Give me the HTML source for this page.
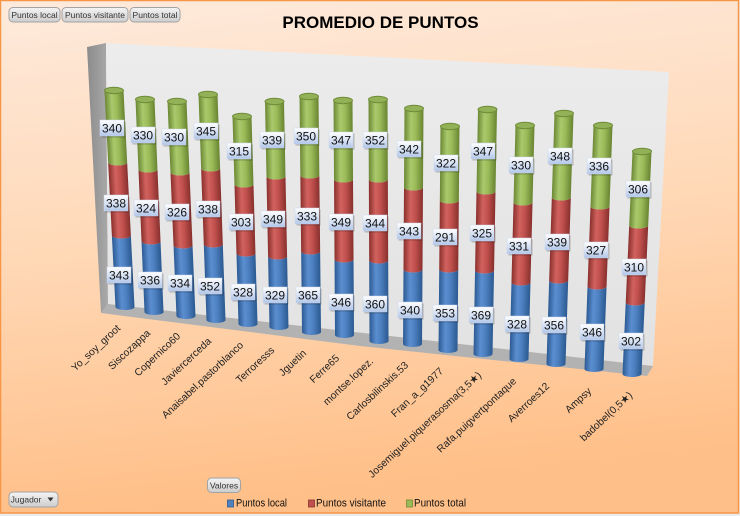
<!DOCTYPE html>
<html><head><meta charset="utf-8"><style>
html,body{margin:0;padding:0;background:#f0f0f0;}
svg{display:block;font-family:"Liberation Sans","DejaVu Sans",sans-serif;}
.b{fill:url(#gb)}.r{fill:url(#gr)}.g{fill:url(#gg)}
.cap{fill:#93b257;stroke:#6f8c38;stroke-width:1}
.lb rect.s{fill:rgba(0,0,0,0.22)}
.lb rect.f{fill:url(#gl);stroke:#c9d5ea;stroke-width:0.5}
.lb text{font-size:12px;fill:#111;text-anchor:middle}
.cat{font-size:10.3px;fill:#222;text-anchor:end}
.btn rect{fill:url(#gbtn);stroke:#a3a3a3;stroke-width:1}
.btn text{font-size:8.5px;fill:#333;text-anchor:middle}
</style></head><body>
<svg width="740" height="516" viewBox="0 0 740 516" xmlns="http://www.w3.org/2000/svg">
<defs>
<linearGradient id="bg" x1="0" y1="0" x2="0.15" y2="1">
<stop offset="0" stop-color="#feeadc"/><stop offset="0.5" stop-color="#ffd8b6"/><stop offset="1" stop-color="#ffbf88"/>
</linearGradient>
<linearGradient id="gb" x1="0" x2="1" y1="0" y2="0">
<stop offset="0" stop-color="#2c5a93"/><stop offset="0.35" stop-color="#5b8ed0"/><stop offset="0.6" stop-color="#4d80c0"/><stop offset="1" stop-color="#2b5990"/>
</linearGradient>
<linearGradient id="gr" x1="0" x2="1" y1="0" y2="0">
<stop offset="0" stop-color="#8a302d"/><stop offset="0.35" stop-color="#d1625e"/><stop offset="0.6" stop-color="#c2514e"/><stop offset="1" stop-color="#87302d"/>
</linearGradient>
<linearGradient id="gg" x1="0" x2="1" y1="0" y2="0">
<stop offset="0" stop-color="#6b8834"/><stop offset="0.35" stop-color="#aac96c"/><stop offset="0.6" stop-color="#9bbb59"/><stop offset="1" stop-color="#688431"/>
</linearGradient>
<linearGradient id="gl" x1="0" x2="0" y1="0" y2="1">
<stop offset="0" stop-color="#ffffff"/><stop offset="1" stop-color="#b3c7ea"/>
</linearGradient>
<linearGradient id="glw" x1="0" x2="1" y1="0" y2="0">
<stop offset="0" stop-color="#8c8c8c"/><stop offset="1" stop-color="#a9a9a9"/>
</linearGradient>
<linearGradient id="gbw" x1="0" x2="0" y1="0" y2="1">
<stop offset="0" stop-color="#ececec"/><stop offset="1" stop-color="#e2e2e2"/>
</linearGradient>
<linearGradient id="gbtn" x1="0" x2="0" y1="0" y2="1">
<stop offset="0" stop-color="#f4f4f4"/><stop offset="1" stop-color="#cdcdcd"/>
</linearGradient>
</defs>

<rect x="0" y="0" width="740" height="516" fill="#ececec"/>
<rect x="0.5" y="0.5" width="738" height="512.5" fill="url(#bg)" stroke="#f79646" stroke-width="1.5"/>

<!-- title -->
<text x="380.5" y="28" font-size="17" font-weight="bold" text-anchor="middle" fill="#000">PROMEDIO DE PUNTOS</text>

<!-- top buttons -->
<g class="btn"><rect x="9" y="7.5" width="51" height="14.5" rx="4"/><text x="34.5" y="18">Puntos local</text></g>
<g class="btn"><rect x="62" y="7.5" width="66" height="14.5" rx="4"/><text x="95" y="18">Puntos visitante</text></g>
<g class="btn"><rect x="130" y="7.5" width="50" height="14.5" rx="4"/><text x="155" y="18">Puntos total</text></g>

<!-- walls -->
<polygon points="87,47 106,43 108,304 101,313" fill="url(#glw)"/>
<polygon points="106,43 669,72 653,366 108,304" fill="url(#gbw)"/>
<polygon points="108,304 653,366 647,376 360,346 101,313" fill="#b2b2b2"/>

<!-- bars -->
<g transform="translate(114,90.5) skewX(2.91)"><path class="b" d="M-9.5,145A9.5,3 0 0 0 9.5,145L9.5,216.5A9.5,3 0 0 1 -9.5,216.5Z"/><path class="r" d="M-9.5,72A9.5,3 0 0 0 9.5,72L9.5,145A9.5,3 0 0 1 -9.5,145Z"/><path class="g" d="M-9.5,0A9.5,3 0 0 0 9.5,0L9.5,72A9.5,3 0 0 1 -9.5,72Z"/><ellipse class="cap" rx="9.5" ry="3.2"/></g>
<g transform="translate(145,99.5) skewX(2.43)"><path class="b" d="M-9.5,142A9.5,3 0 0 0 9.5,142L9.5,212.5A9.5,3 0 0 1 -9.5,212.5Z"/><path class="r" d="M-9.5,70A9.5,3 0 0 0 9.5,70L9.5,142A9.5,3 0 0 1 -9.5,142Z"/><path class="g" d="M-9.5,0A9.5,3 0 0 0 9.5,0L9.5,70A9.5,3 0 0 1 -9.5,70Z"/><ellipse class="cap" rx="9.5" ry="3.2"/></g>
<g transform="translate(177,101.5) skewX(2.40)"><path class="b" d="M-9.5,144A9.5,3 0 0 0 9.5,144L9.5,214.5A9.5,3 0 0 1 -9.5,214.5Z"/><path class="r" d="M-9.5,71A9.5,3 0 0 0 9.5,71L9.5,144A9.5,3 0 0 1 -9.5,144Z"/><path class="g" d="M-9.5,0A9.5,3 0 0 0 9.5,0L9.5,71A9.5,3 0 0 1 -9.5,71Z"/><ellipse class="cap" rx="9.5" ry="3.2"/></g>
<g transform="translate(208,94.5) skewX(2.03)"><path class="b" d="M-9.5,150A9.5,3 0 0 0 9.5,150L9.5,225.5A9.5,3 0 0 1 -9.5,225.5Z"/><path class="r" d="M-9.5,74A9.5,3 0 0 0 9.5,74L9.5,150A9.5,3 0 0 1 -9.5,150Z"/><path class="g" d="M-9.5,0A9.5,3 0 0 0 9.5,0L9.5,74A9.5,3 0 0 1 -9.5,74Z"/><ellipse class="cap" rx="9.5" ry="3.2"/></g>
<g transform="translate(242,116.5) skewX(1.66)"><path class="b" d="M-9.5,137A9.5,3 0 0 0 9.5,137L9.5,207.5A9.5,3 0 0 1 -9.5,207.5Z"/><path class="r" d="M-9.5,68A9.5,3 0 0 0 9.5,68L9.5,137A9.5,3 0 0 1 -9.5,137Z"/><path class="g" d="M-9.5,0A9.5,3 0 0 0 9.5,0L9.5,68A9.5,3 0 0 1 -9.5,68Z"/><ellipse class="cap" rx="9.5" ry="3.2"/></g>
<g transform="translate(274.5,101.5) skewX(1.14)"><path class="b" d="M-9.5,155A9.5,3 0 0 0 9.5,155L9.5,225.5A9.5,3 0 0 1 -9.5,225.5Z"/><path class="r" d="M-9.5,75A9.5,3 0 0 0 9.5,75L9.5,155A9.5,3 0 0 1 -9.5,155Z"/><path class="g" d="M-9.5,0A9.5,3 0 0 0 9.5,0L9.5,75A9.5,3 0 0 1 -9.5,75Z"/><ellipse class="cap" rx="9.5" ry="3.2"/></g>
<g transform="translate(309,96.5) skewX(0.61)"><path class="b" d="M-9.5,155A9.5,3 0 0 0 9.5,155L9.5,235.5A9.5,3 0 0 1 -9.5,235.5Z"/><path class="r" d="M-9.5,79A9.5,3 0 0 0 9.5,79L9.5,155A9.5,3 0 0 1 -9.5,155Z"/><path class="g" d="M-9.5,0A9.5,3 0 0 0 9.5,0L9.5,79A9.5,3 0 0 1 -9.5,79Z"/><ellipse class="cap" rx="9.5" ry="3.2"/></g>
<g transform="translate(343,100.5) skewX(0.37)"><path class="b" d="M-9.5,159A9.5,3 0 0 0 9.5,159L9.5,234.5A9.5,3 0 0 1 -9.5,234.5Z"/><path class="r" d="M-9.5,79A9.5,3 0 0 0 9.5,79L9.5,159A9.5,3 0 0 1 -9.5,159Z"/><path class="g" d="M-9.5,0A9.5,3 0 0 0 9.5,0L9.5,79A9.5,3 0 0 1 -9.5,79Z"/><ellipse class="cap" rx="9.5" ry="3.2"/></g>
<g transform="translate(378,99.5) skewX(0.24)"><path class="b" d="M-9.5,161A9.5,3 0 0 0 9.5,161L9.5,241.5A9.5,3 0 0 1 -9.5,241.5Z"/><path class="r" d="M-9.5,80A9.5,3 0 0 0 9.5,80L9.5,161A9.5,3 0 0 1 -9.5,161Z"/><path class="g" d="M-9.5,0A9.5,3 0 0 0 9.5,0L9.5,80A9.5,3 0 0 1 -9.5,80Z"/><ellipse class="cap" rx="9.5" ry="3.2"/></g>
<g transform="translate(414,108.5) skewX(-0.36)"><path class="b" d="M-9.5,161A9.5,3 0 0 0 9.5,161L9.5,235.5A9.5,3 0 0 1 -9.5,235.5Z"/><path class="r" d="M-9.5,79A9.5,3 0 0 0 9.5,79L9.5,161A9.5,3 0 0 1 -9.5,161Z"/><path class="g" d="M-9.5,0A9.5,3 0 0 0 9.5,0L9.5,79A9.5,3 0 0 1 -9.5,79Z"/><ellipse class="cap" rx="9.5" ry="3.2"/></g>
<g transform="translate(450,126.5) skewX(-0.51)"><path class="b" d="M-9.5,143A9.5,3 0 0 0 9.5,143L9.5,223.5A9.5,3 0 0 1 -9.5,223.5Z"/><path class="r" d="M-9.5,74A9.5,3 0 0 0 9.5,74L9.5,143A9.5,3 0 0 1 -9.5,143Z"/><path class="g" d="M-9.5,0A9.5,3 0 0 0 9.5,0L9.5,74A9.5,3 0 0 1 -9.5,74Z"/><ellipse class="cap" rx="9.5" ry="3.2"/></g>
<g transform="translate(487.5,109.5) skewX(-1.05)"><path class="b" d="M-9.5,161A9.5,3 0 0 0 9.5,161L9.5,244.5A9.5,3 0 0 1 -9.5,244.5Z"/><path class="r" d="M-9.5,82A9.5,3 0 0 0 9.5,82L9.5,161A9.5,3 0 0 1 -9.5,161Z"/><path class="g" d="M-9.5,0A9.5,3 0 0 0 9.5,0L9.5,82A9.5,3 0 0 1 -9.5,82Z"/><ellipse class="cap" rx="9.5" ry="3.2"/></g>
<g transform="translate(525,125.5) skewX(-1.47)"><path class="b" d="M-9.5,157A9.5,3 0 0 0 9.5,157L9.5,233.5A9.5,3 0 0 1 -9.5,233.5Z"/><path class="r" d="M-9.5,77A9.5,3 0 0 0 9.5,77L9.5,157A9.5,3 0 0 1 -9.5,157Z"/><path class="g" d="M-9.5,0A9.5,3 0 0 0 9.5,0L9.5,77A9.5,3 0 0 1 -9.5,77Z"/><ellipse class="cap" rx="9.5" ry="3.2"/></g>
<g transform="translate(564,113.5) skewX(-1.83)"><path class="b" d="M-9.5,167A9.5,3 0 0 0 9.5,167L9.5,250.5A9.5,3 0 0 1 -9.5,250.5Z"/><path class="r" d="M-9.5,84A9.5,3 0 0 0 9.5,84L9.5,167A9.5,3 0 0 1 -9.5,167Z"/><path class="g" d="M-9.5,0A9.5,3 0 0 0 9.5,0L9.5,84A9.5,3 0 0 1 -9.5,84Z"/><ellipse class="cap" rx="9.5" ry="3.2"/></g>
<g transform="translate(603,125.5) skewX(-2.12)"><path class="b" d="M-9.5,161A9.5,3 0 0 0 9.5,161L9.5,243.5A9.5,3 0 0 1 -9.5,243.5Z"/><path class="r" d="M-9.5,81A9.5,3 0 0 0 9.5,81L9.5,161A9.5,3 0 0 1 -9.5,161Z"/><path class="g" d="M-9.5,0A9.5,3 0 0 0 9.5,0L9.5,81A9.5,3 0 0 1 -9.5,81Z"/><ellipse class="cap" rx="9.5" ry="3.2"/></g>
<g transform="translate(642,151.5) skewX(-2.57)"><path class="b" d="M-9.5,151A9.5,3 0 0 0 9.5,151L9.5,222.5A9.5,3 0 0 1 -9.5,222.5Z"/><path class="r" d="M-9.5,74A9.5,3 0 0 0 9.5,74L9.5,151A9.5,3 0 0 1 -9.5,151Z"/><path class="g" d="M-9.5,0A9.5,3 0 0 0 9.5,0L9.5,74A9.5,3 0 0 1 -9.5,74Z"/><ellipse class="cap" rx="9.5" ry="3.2"/></g>

<!-- data labels -->
<g class="lb">
<g transform="translate(112,128)"><rect class="s" x="-10.5" y="-6.5" width="24" height="16"/><rect class="f" x="-12" y="-8" width="24" height="16"/><text y="4.3">340</text></g>
<g transform="translate(116,203)"><rect class="s" x="-10.5" y="-6.5" width="24" height="16"/><rect class="f" x="-12" y="-8" width="24" height="16"/><text y="4.3">338</text></g>
<g transform="translate(119,275)"><rect class="s" x="-10.5" y="-6.5" width="24" height="16"/><rect class="f" x="-12" y="-8" width="24" height="16"/><text y="4.3">343</text></g>
<g transform="translate(143,135)"><rect class="s" x="-10.5" y="-6.5" width="24" height="16"/><rect class="f" x="-12" y="-8" width="24" height="16"/><text y="4.3">330</text></g>
<g transform="translate(146,208)"><rect class="s" x="-10.5" y="-6.5" width="24" height="16"/><rect class="f" x="-12" y="-8" width="24" height="16"/><text y="4.3">324</text></g>
<g transform="translate(150,280)"><rect class="s" x="-10.5" y="-6.5" width="24" height="16"/><rect class="f" x="-12" y="-8" width="24" height="16"/><text y="4.3">336</text></g>
<g transform="translate(174,137)"><rect class="s" x="-10.5" y="-6.5" width="24" height="16"/><rect class="f" x="-12" y="-8" width="24" height="16"/><text y="4.3">330</text></g>
<g transform="translate(177,212)"><rect class="s" x="-10.5" y="-6.5" width="24" height="16"/><rect class="f" x="-12" y="-8" width="24" height="16"/><text y="4.3">326</text></g>
<g transform="translate(180,283)"><rect class="s" x="-10.5" y="-6.5" width="24" height="16"/><rect class="f" x="-12" y="-8" width="24" height="16"/><text y="4.3">334</text></g>
<g transform="translate(206,131)"><rect class="s" x="-10.5" y="-6.5" width="24" height="16"/><rect class="f" x="-12" y="-8" width="24" height="16"/><text y="4.3">345</text></g>
<g transform="translate(208,209)"><rect class="s" x="-10.5" y="-6.5" width="24" height="16"/><rect class="f" x="-12" y="-8" width="24" height="16"/><text y="4.3">338</text></g>
<g transform="translate(210,286)"><rect class="s" x="-10.5" y="-6.5" width="24" height="16"/><rect class="f" x="-12" y="-8" width="24" height="16"/><text y="4.3">352</text></g>
<g transform="translate(239,151)"><rect class="s" x="-10.5" y="-6.5" width="24" height="16"/><rect class="f" x="-12" y="-8" width="24" height="16"/><text y="4.3">315</text></g>
<g transform="translate(241,222)"><rect class="s" x="-10.5" y="-6.5" width="24" height="16"/><rect class="f" x="-12" y="-8" width="24" height="16"/><text y="4.3">303</text></g>
<g transform="translate(243,292)"><rect class="s" x="-10.5" y="-6.5" width="24" height="16"/><rect class="f" x="-12" y="-8" width="24" height="16"/><text y="4.3">328</text></g>
<g transform="translate(272,140)"><rect class="s" x="-10.5" y="-6.5" width="24" height="16"/><rect class="f" x="-12" y="-8" width="24" height="16"/><text y="4.3">339</text></g>
<g transform="translate(273,219)"><rect class="s" x="-10.5" y="-6.5" width="24" height="16"/><rect class="f" x="-12" y="-8" width="24" height="16"/><text y="4.3">349</text></g>
<g transform="translate(275,295)"><rect class="s" x="-10.5" y="-6.5" width="24" height="16"/><rect class="f" x="-12" y="-8" width="24" height="16"/><text y="4.3">329</text></g>
<g transform="translate(306,136)"><rect class="s" x="-10.5" y="-6.5" width="24" height="16"/><rect class="f" x="-12" y="-8" width="24" height="16"/><text y="4.3">350</text></g>
<g transform="translate(307,216)"><rect class="s" x="-10.5" y="-6.5" width="24" height="16"/><rect class="f" x="-12" y="-8" width="24" height="16"/><text y="4.3">333</text></g>
<g transform="translate(308,295)"><rect class="s" x="-10.5" y="-6.5" width="24" height="16"/><rect class="f" x="-12" y="-8" width="24" height="16"/><text y="4.3">365</text></g>
<g transform="translate(341,140)"><rect class="s" x="-10.5" y="-6.5" width="24" height="16"/><rect class="f" x="-12" y="-8" width="24" height="16"/><text y="4.3">347</text></g>
<g transform="translate(341,222)"><rect class="s" x="-10.5" y="-6.5" width="24" height="16"/><rect class="f" x="-12" y="-8" width="24" height="16"/><text y="4.3">349</text></g>
<g transform="translate(341,302)"><rect class="s" x="-10.5" y="-6.5" width="24" height="16"/><rect class="f" x="-12" y="-8" width="24" height="16"/><text y="4.3">346</text></g>
<g transform="translate(375,140)"><rect class="s" x="-10.5" y="-6.5" width="24" height="16"/><rect class="f" x="-12" y="-8" width="24" height="16"/><text y="4.3">352</text></g>
<g transform="translate(375,223)"><rect class="s" x="-10.5" y="-6.5" width="24" height="16"/><rect class="f" x="-12" y="-8" width="24" height="16"/><text y="4.3">344</text></g>
<g transform="translate(375,304)"><rect class="s" x="-10.5" y="-6.5" width="24" height="16"/><rect class="f" x="-12" y="-8" width="24" height="16"/><text y="4.3">360</text></g>
<g transform="translate(409,149)"><rect class="s" x="-10.5" y="-6.5" width="24" height="16"/><rect class="f" x="-12" y="-8" width="24" height="16"/><text y="4.3">342</text></g>
<g transform="translate(409,231)"><rect class="s" x="-10.5" y="-6.5" width="24" height="16"/><rect class="f" x="-12" y="-8" width="24" height="16"/><text y="4.3">343</text></g>
<g transform="translate(410,310)"><rect class="s" x="-10.5" y="-6.5" width="24" height="16"/><rect class="f" x="-12" y="-8" width="24" height="16"/><text y="4.3">340</text></g>
<g transform="translate(446,163)"><rect class="s" x="-10.5" y="-6.5" width="24" height="16"/><rect class="f" x="-12" y="-8" width="24" height="16"/><text y="4.3">322</text></g>
<g transform="translate(445,237)"><rect class="s" x="-10.5" y="-6.5" width="24" height="16"/><rect class="f" x="-12" y="-8" width="24" height="16"/><text y="4.3">291</text></g>
<g transform="translate(445,313)"><rect class="s" x="-10.5" y="-6.5" width="24" height="16"/><rect class="f" x="-12" y="-8" width="24" height="16"/><text y="4.3">353</text></g>
<g transform="translate(483,151)"><rect class="s" x="-10.5" y="-6.5" width="24" height="16"/><rect class="f" x="-12" y="-8" width="24" height="16"/><text y="4.3">347</text></g>
<g transform="translate(482,233)"><rect class="s" x="-10.5" y="-6.5" width="24" height="16"/><rect class="f" x="-12" y="-8" width="24" height="16"/><text y="4.3">325</text></g>
<g transform="translate(481,315)"><rect class="s" x="-10.5" y="-6.5" width="24" height="16"/><rect class="f" x="-12" y="-8" width="24" height="16"/><text y="4.3">369</text></g>
<g transform="translate(521,165)"><rect class="s" x="-10.5" y="-6.5" width="24" height="16"/><rect class="f" x="-12" y="-8" width="24" height="16"/><text y="4.3">330</text></g>
<g transform="translate(519,246)"><rect class="s" x="-10.5" y="-6.5" width="24" height="16"/><rect class="f" x="-12" y="-8" width="24" height="16"/><text y="4.3">331</text></g>
<g transform="translate(517,324)"><rect class="s" x="-10.5" y="-6.5" width="24" height="16"/><rect class="f" x="-12" y="-8" width="24" height="16"/><text y="4.3">328</text></g>
<g transform="translate(560,156)"><rect class="s" x="-10.5" y="-6.5" width="24" height="16"/><rect class="f" x="-12" y="-8" width="24" height="16"/><text y="4.3">348</text></g>
<g transform="translate(557,242)"><rect class="s" x="-10.5" y="-6.5" width="24" height="16"/><rect class="f" x="-12" y="-8" width="24" height="16"/><text y="4.3">339</text></g>
<g transform="translate(554,325)"><rect class="s" x="-10.5" y="-6.5" width="24" height="16"/><rect class="f" x="-12" y="-8" width="24" height="16"/><text y="4.3">356</text></g>
<g transform="translate(599,166)"><rect class="s" x="-10.5" y="-6.5" width="24" height="16"/><rect class="f" x="-12" y="-8" width="24" height="16"/><text y="4.3">336</text></g>
<g transform="translate(596,250)"><rect class="s" x="-10.5" y="-6.5" width="24" height="16"/><rect class="f" x="-12" y="-8" width="24" height="16"/><text y="4.3">327</text></g>
<g transform="translate(592,332)"><rect class="s" x="-10.5" y="-6.5" width="24" height="16"/><rect class="f" x="-12" y="-8" width="24" height="16"/><text y="4.3">346</text></g>
<g transform="translate(638,189)"><rect class="s" x="-10.5" y="-6.5" width="24" height="16"/><rect class="f" x="-12" y="-8" width="24" height="16"/><text y="4.3">306</text></g>
<g transform="translate(634,267)"><rect class="s" x="-10.5" y="-6.5" width="24" height="16"/><rect class="f" x="-12" y="-8" width="24" height="16"/><text y="4.3">310</text></g>
<g transform="translate(631,341)"><rect class="s" x="-10.5" y="-6.5" width="24" height="16"/><rect class="f" x="-12" y="-8" width="24" height="16"/><text y="4.3">302</text></g>
</g>

<!-- category labels -->
<text class="cat" transform="translate(121,329) rotate(-43)">Yo_soy_groot</text>
<text class="cat" transform="translate(151,334) rotate(-43)">Siscozappa</text>
<text class="cat" transform="translate(181,337) rotate(-43)">Copernico60</text>
<text class="cat" transform="translate(212,342) rotate(-43)">Javiercerceda</text>
<text class="cat" transform="translate(244,346) rotate(-43)">Anaisabel.pastorblanco</text>
<text class="cat" transform="translate(275,351) rotate(-43)">Terroresss</text>
<text class="cat" transform="translate(307,354) rotate(-43)">Jguetin</text>
<text class="cat" transform="translate(340,359) rotate(-43)">Ferre65</text>
<text class="cat" transform="translate(374,362) rotate(-43)">montse.lopez.</text>
<text class="cat" transform="translate(409,366) rotate(-43)">Carlosbilinskis.53</text>
<text class="cat" transform="translate(444,372) rotate(-43)">Fran_a_g1977</text>
<text class="cat" transform="translate(482,376) rotate(-43)">Josemiguel.piquerasosma(3,5★)</text>
<text class="cat" transform="translate(517,382) rotate(-43)">Rafa.puigvertpontaque</text>
<text class="cat" transform="translate(550,387) rotate(-43)">Averroes12</text>
<text class="cat" transform="translate(592,392) rotate(-43)">Ampsy</text>
<text class="cat" transform="translate(633,396) rotate(-43)">badobel(0,5★)</text>

<!-- bottom buttons -->
<g class="btn"><rect x="207.5" y="478" width="33" height="14.5" rx="4"/><text x="224" y="488.5">Valores</text></g>
<g class="btn"><rect x="9" y="492" width="49" height="15" rx="4"/><text x="26" y="502.5">Jugador</text><path d="M47.5,497.5 L53.5,497.5 L50.5,501.5Z" fill="#333"/></g>

<!-- legend -->
<rect x="227.5" y="500" width="6" height="7" fill="#4f81bd" stroke="#2f5b93" stroke-width="0.8"/>
<text x="236" y="506.5" font-size="11" fill="#111" textLength="51" lengthAdjust="spacingAndGlyphs">Puntos local</text>
<rect x="308.5" y="500" width="6" height="7" fill="#c0504d" stroke="#8c3431" stroke-width="0.8"/>
<text x="316" y="506.5" font-size="11" fill="#111" textLength="70" lengthAdjust="spacingAndGlyphs">Puntos visitante</text>
<rect x="406.5" y="500" width="6" height="7" fill="#9bbb59" stroke="#6e8a36" stroke-width="0.8"/>
<text x="414" y="506.5" font-size="11" fill="#111" textLength="52" lengthAdjust="spacingAndGlyphs">Puntos total</text>
</svg>
</body></html>
